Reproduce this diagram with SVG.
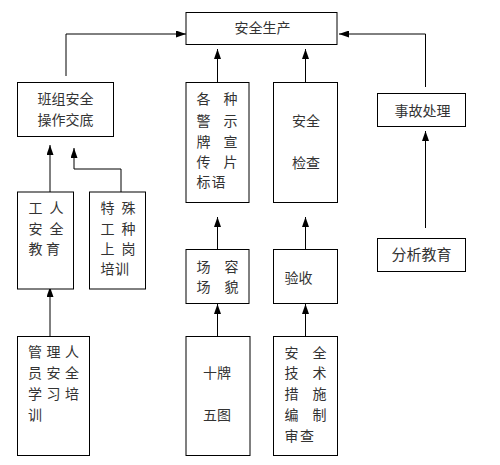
<svg xmlns="http://www.w3.org/2000/svg" width="500" height="465" viewBox="0 0 500 465">
<defs>
<style>
.box{fill:#fff;stroke:#000;stroke-width:1}
.t{font-family:"Noto Sans CJK SC","Noto Sans CJK TC",sans-serif;font-size:14px;fill:#333}
.c{fill:none;stroke:#000;stroke-width:1}
</style>
<marker id="ah" markerWidth="10" markerHeight="7" refX="10" refY="3.5" orient="auto" markerUnits="userSpaceOnUse">
<path d="M0,0 L10,3.5 L0,7 z" fill="#000"/>
</marker>
</defs>
<rect width="500" height="465" fill="#fff"/>
<g id="connectors">
<path class="c" d="M66,76 V34 H186" marker-end="url(#ah)"/>
<path class="c" d="M217.5,82 V49" marker-end="url(#ah)"/>
<path class="c" d="M305.5,82 V49" marker-end="url(#ah)"/>
<path class="c" d="M425.5,87 V34 H339" marker-end="url(#ah)"/>
<path class="c" d="M425.5,228 V131" marker-end="url(#ah)"/>
<path class="c" d="M50,192 V145" marker-end="url(#ah)"/>
<path class="c" d="M121,192 V169 H74 V148" marker-end="url(#ah)"/>
<path class="c" d="M50,336 V287" marker-end="url(#ah)"/>
<path class="c" d="M217.5,249 V217" marker-end="url(#ah)"/>
<path class="c" d="M305.5,249 V217" marker-end="url(#ah)"/>
<path class="c" d="M217.5,336 V304" marker-end="url(#ah)"/>
<path class="c" d="M305.5,336 V304" marker-end="url(#ah)"/>
</g>
<g id="safety-production">
<rect class="box" x="186" y="12.5" width="151" height="32"/>
<text class="t" x="234.5" y="33">安全生产</text>
</g>
<g id="team-briefing">
<rect class="box" x="17.5" y="82.5" width="96" height="54"/>
<text class="t" x="37.5" y="104">班组安全</text>
<text class="t" x="37.5" y="125">操作交底</text>
</g>
<g id="signs">
<rect class="box" x="186" y="82.5" width="63" height="120"/>
<text class="t" x="196.5 223.5" y="104">各种</text>
<text class="t" x="196.5 223.5" y="126">警示</text>
<text class="t" x="196.5 223.5" y="147">牌宣</text>
<text class="t" x="196.5 223.5" y="167">传片</text>
<text class="t" x="196.5 211.5" y="187">标语</text>
</g>
<g id="safety-check">
<rect class="box" x="273.5" y="82.5" width="64" height="120"/>
<text class="t" x="292" y="126">安全</text>
<text class="t" x="292" y="168">检查</text>
</g>
<g id="accident">
<rect class="box" x="377.5" y="93.5" width="88" height="33"/>
<text class="t" x="394.5" y="116">事故处理</text>
</g>
<g id="worker-edu">
<rect class="box" x="17.5" y="192" width="56" height="97"/>
<text class="t" x="28.5 49.5" y="213">工人</text>
<text class="t" x="28.5 49.5" y="234">安全</text>
<text class="t" x="28.5 46" y="254">教育</text>
</g>
<g id="special-training">
<rect class="box" x="89.5" y="192" width="56" height="97"/>
<text class="t" x="100.5 121.5" y="213">特殊</text>
<text class="t" x="100.5 121.5" y="234">工种</text>
<text class="t" x="100.5 121.5" y="254">上岗</text>
<text class="t" x="100.5 115" y="274">培训</text>
</g>
<g id="analysis">
<rect class="box" x="377.5" y="238.5" width="88" height="33"/>
<text class="t" x="421.5" y="260" text-anchor="middle" style="font-size:15px">分析教育</text>
</g>
<g id="site">
<rect class="box" x="186" y="249.5" width="63" height="54"/>
<text class="t" x="196.5 224.5" y="272">场容</text>
<text class="t" x="196.5 224.5" y="292">场貌</text>
</g>
<g id="acceptance">
<rect class="box" x="273.5" y="249.5" width="64" height="54"/>
<text class="t" x="284.5" y="283">验收</text>
</g>
<g id="manager-training">
<rect class="box" x="17.5" y="336.5" width="72" height="119"/>
<text class="t" x="28 46.5 65" y="357">管理人</text>
<text class="t" x="28 46.5 65" y="378">员安全</text>
<text class="t" x="28 46.5 65" y="399">学习培</text>
<text class="t" x="28" y="420">训</text>
</g>
<g id="ten-five">
<rect class="box" x="186" y="336.5" width="64" height="119"/>
<text class="t" x="203" y="378">十牌</text>
<text class="t" x="203" y="420">五图</text>
</g>
<g id="tech-measures">
<rect class="box" x="273.5" y="336.5" width="64" height="119"/>
<text class="t" x="284.5 312.5" y="358">安全</text>
<text class="t" x="284.5 312.5" y="378">技术</text>
<text class="t" x="284.5 312.5" y="399">措施</text>
<text class="t" x="284.5 312.5" y="420">编制</text>
<text class="t" x="284.5 300" y="441">审查</text>
</g>
</svg>
